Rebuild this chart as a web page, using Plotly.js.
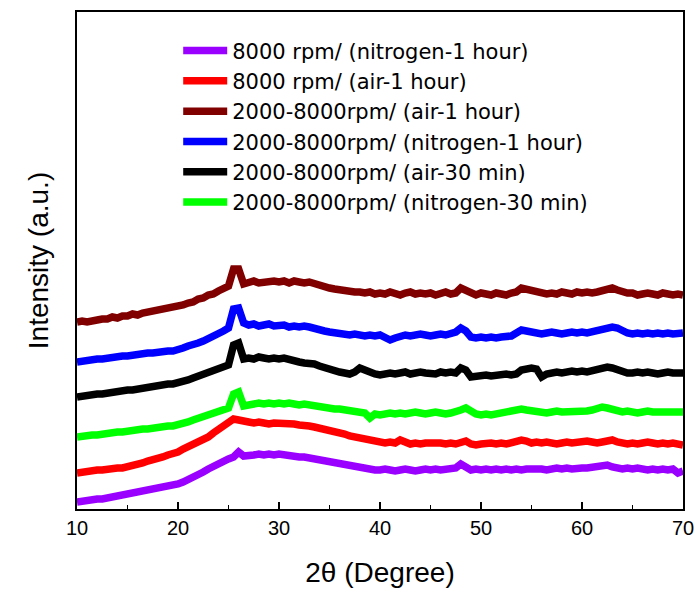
<!DOCTYPE html>
<html>
<head>
<meta charset="utf-8">
<script src="https://cdn.plot.ly/plotly-3.0.1.min.js"></script>
<style>
html,body{margin:0;padding:0;background:#fff;}
#chart{width:695px;height:595px;}
</style>
</head>
<body>
<div id="chart"></div>
<script>
// 2θ values (degrees), 10 to 70 in 0.5 steps
const twoTheta = [];
for (let i = 0; i <= 120; i++) twoTheta.push(10 + i * 0.5);

const seriesNames = [
  "8000 rpm/ (nitrogen-1 hour)",
  "8000 rpm/ (air-1 hour)",
  "2000-8000rpm/ (air-1 hour)",
  "2000-8000rpm/ (nitrogen-1 hour)",
  "2000-8000rpm/ (air-30 min)",
  "2000-8000rpm/ (nitrogen-30 min)"
];
const seriesColors = ["#9900ff", "#ff0000", "#800000", "#0000ff", "#000000", "#00ff00"];

// Intensity (a.u., vertically offset as in the figure)
const n2_8000_1h = [
  7,8,8,9,10,10,11,12,12,13,
  14,15,16,17,18,19,20,21,22,23,
  25,27,29,31,34,37,40,43,46,48,
  50,52,57,53,53,54,55,54,55,54,
  55,54,54,53,52,52,51,50,49,48,
  47,46,45,44,43,42,41,41,40,39,
  39,40,39,38,39,40,39,38,39,40,
  39,40,39,40,40,41,45,42,39,40,
  39,40,39,40,39,40,39,40,39,40,
  40,41,40,39,40,41,40,41,40,41,
  41,41,42,42,43,44,42,41,40,41,
  40,41,40,39,40,39,40,39,40,36,
  38];
const air_8000_1h = [
  36,37,37,38,39,39,40,40,41,41,
  42,43,45,46,48,49,51,52,54,55,
  57,60,62,64,66,69,72,76,80,83,
  86,90,89,87,87,86,87,86,85,86,
  86,85,86,85,84,84,83,82,81,80,
  78,77,76,75,73,72,71,70,69,68,
  67,66,67,66,69,66,65,66,65,66,
  66,67,66,65,66,65,66,68,65,64,
  65,66,66,65,66,65,66,67,69,68,
  66,67,66,67,66,65,66,67,66,67,
  67,68,67,66,67,68,69,67,66,65,
  66,65,66,67,66,65,66,65,66,65,
  64];
const air_2000_8000_1h = [
  187,188,187,189,189,190,190,192,191,193,
  193,195,194,196,197,197,199,200,201,201,
  203,204,206,207,210,211,214,215,218,220,
  223,240,240,225,226,228,226,227,227,228,
  227,228,226,228,227,226,227,225,224,222,
  221,220,219,219,218,217,217,216,217,215,
  216,215,217,216,214,216,217,215,216,215,
  216,214,216,217,215,216,221,219,215,214,
  216,215,214,216,215,214,216,217,221,220,
  218,217,216,215,216,215,217,216,215,217,
  216,217,216,217,218,220,221,219,217,216,
  216,214,215,216,215,214,216,215,214,215,
  214];
const n2_2000_8000_1h = [
  147,148,148,149,150,150,151,151,152,153,
  153,154,154,155,156,156,157,157,158,158,
  159,161,163,164,166,168,170,173,176,178,
  181,200,201,186,184,185,183,184,185,183,
  183,184,182,183,182,183,182,180,179,178,
  177,176,176,175,174,175,174,173,174,173,
  174,172,169,171,173,174,173,174,175,174,
  173,174,175,174,175,177,181,178,172,171,
  172,171,172,171,172,172,173,176,179,178,
  177,176,175,176,177,176,175,176,177,176,
  177,176,177,178,179,180,182,181,178,176,
  175,176,175,176,175,176,175,176,175,176,
  176];
const air_2000_8000_30m = [
  112,113,113,114,115,115,116,117,117,118,
  119,119,120,121,121,122,123,124,125,125,
  126,128,129,131,133,135,137,139,141,142,
  144,164,166,150,151,150,152,151,150,151,
  150,151,149,148,147,146,146,145,143,141,
  139,138,137,136,135,137,141,139,136,135,
  134,135,136,135,136,137,135,136,137,136,
  136,135,137,136,137,136,141,139,132,133,
  133,134,133,134,134,135,134,135,139,141,
  141,140,132,135,137,137,136,137,138,137,
  138,137,138,139,140,142,141,139,137,136,
  136,137,136,137,136,135,136,137,136,136,
  136];
const n2_2000_8000_30m = [
  72,73,73,74,74,75,76,76,77,77,
  78,78,79,80,80,81,82,82,83,83,
  84,86,87,89,91,93,95,96,98,99,
  101,115,117,103,104,105,106,105,106,105,
  106,105,106,105,104,105,104,104,103,102,
  101,100,100,99,98,97,97,96,91,95,
  94,95,96,95,96,95,96,97,96,95,
  96,97,96,95,96,97,99,101,97,95,
  94,95,94,95,96,97,98,99,100,99,
  98,97,97,96,97,98,97,97,98,97,
  97,98,99,101,102,101,99,98,97,98,
  97,96,97,98,97,97,96,97,97,97,
  97];

const seriesData = [n2_8000_1h, air_8000_1h, air_2000_8000_1h, n2_2000_8000_1h, air_2000_8000_30m, n2_2000_8000_30m];
const xTickVals = [10, 20, 30, 40, 50, 60, 70];

const traces = seriesData.map((y, i) => ({
  x: twoTheta,
  y: y,
  type: "scatter",
  mode: "lines",
  name: seriesNames[i],
  line: {color: seriesColors[i], width: 7.5, shape: "linear"}
}));

const font = "Arial, 'Liberation Sans', sans-serif";
const layout = {
  width: 695,
  height: 595,
  margin: {l: 77, r: 12, t: 12, b: 86},
  paper_bgcolor: "#fff",
  plot_bgcolor: "#fff",
  showlegend: true,
  legend: {
    x: 0.167, y: 0.963, xanchor: "left", yanchor: "top",
    bgcolor: "rgba(0,0,0,0)",
    font: {family: "'DejaVu Sans', sans-serif", size: 21, color: "#000"},
    itemwidth: 44,
    tracegroupgap: 0
  },
  xaxis: {
    range: [10, 70],
    tickvals: xTickVals,
    ticktext: xTickVals.map(String),
    ticks: "inside",
    ticklen: 7,
    tickwidth: 1.5,
    tickcolor: "#000",
    minor: {dtick: 5, ticks: "inside", ticklen: 4, tickwidth: 1.5, tickcolor: "#000"},
    showline: true, linecolor: "#000", linewidth: 2, mirror: true,
    showgrid: false, zeroline: false,
    tickfont: {family: font, size: 20, color: "#000"},
    title: {text: "2θ (Degree)", font: {family: font, size: 28, color: "#000"}, standoff: 24}
  },
  yaxis: {
    range: [0, 497],
    showticklabels: false,
    ticks: "",
    showline: true, linecolor: "#000", linewidth: 2, mirror: true,
    showgrid: false, zeroline: false,
    title: {text: "Intensity (a.u.)", font: {family: font, size: 28, color: "#000"}, standoff: 18}
  }
};

Plotly.newPlot("chart", traces, layout, {staticPlot: true, displayModeBar: false});
</script>
</body>
</html>
